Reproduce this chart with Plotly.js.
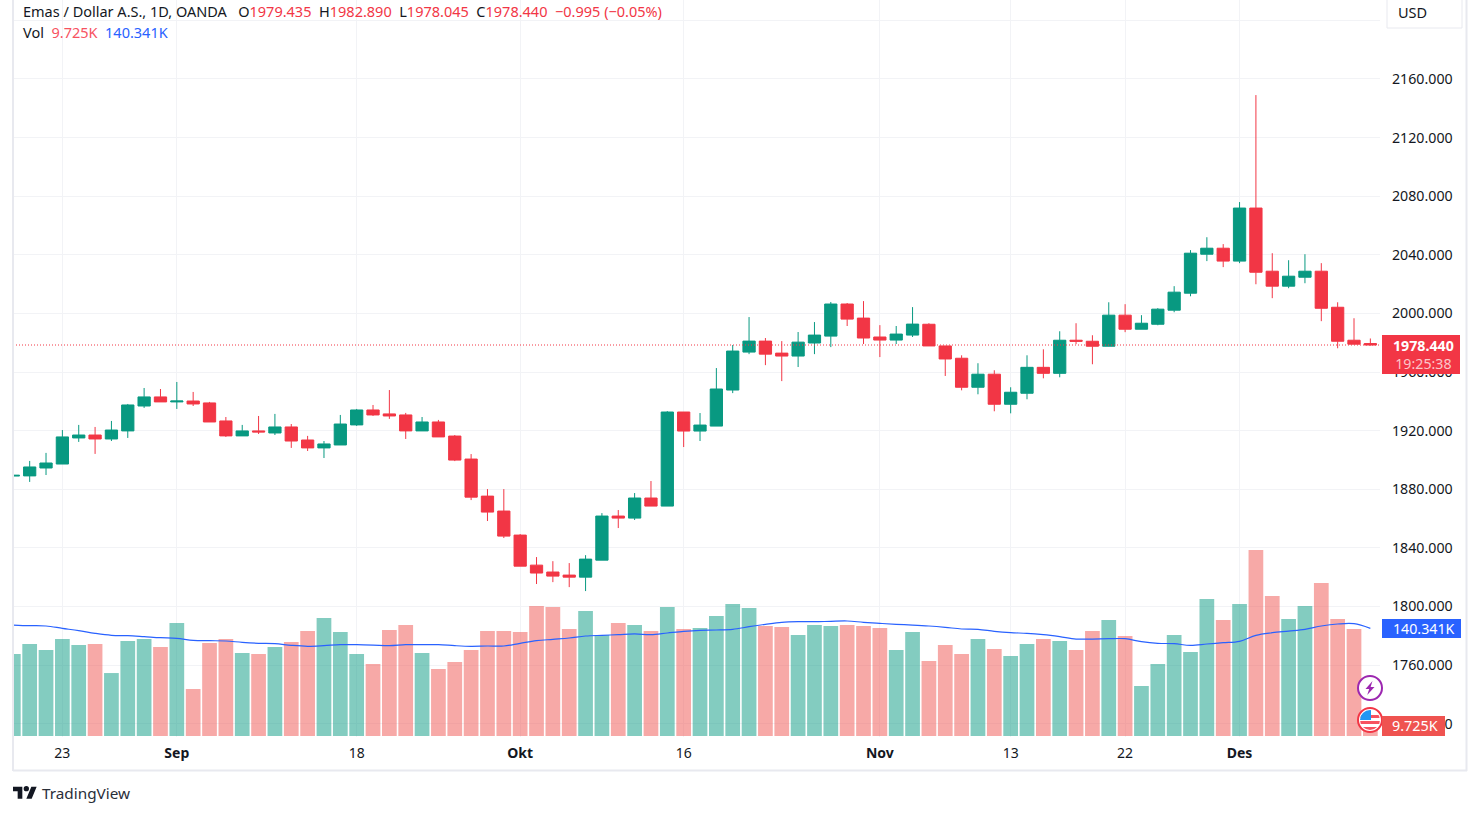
<!DOCTYPE html>
<html>
<head>
<meta charset="utf-8">
<script src="https://cdn.plot.ly/plotly-3.0.1.min.js"></script>
<style>
html, body { margin: 0; padding: 0; background: #fff; }
#chart { width: 1480px; height: 815px; }
</style>
</head>
<body>
<div id="chart"></div>
<script>
// daily bars, Aug 18 to Dec 13
const days = [
  "Aug 18","Aug 21","Aug 22","Aug 23","Aug 24","Aug 25","Aug 28","Aug 29","Aug 30","Aug 31",
  "Sep 1","Sep 4","Sep 5","Sep 6","Sep 7","Sep 8","Sep 11","Sep 12","Sep 13","Sep 14",
  "Sep 15","Sep 18","Sep 19","Sep 20","Sep 21","Sep 22","Sep 25","Sep 26","Sep 27","Sep 28",
  "Sep 29","Okt 2","Okt 3","Okt 4","Okt 5","Okt 6","Okt 9","Okt 10","Okt 11","Okt 12",
  "Okt 13","Okt 16","Okt 17","Okt 18","Okt 19","Okt 20","Okt 23","Okt 24","Okt 25","Okt 26",
  "Okt 27","Okt 30","Okt 31","Nov 1","Nov 2","Nov 3","Nov 6","Nov 7","Nov 8","Nov 9",
  "Nov 10","Nov 13","Nov 14","Nov 15","Nov 16","Nov 17","Nov 20","Nov 21","Nov 22","Nov 23",
  "Nov 24","Nov 27","Nov 28","Nov 29","Nov 30","Des 1","Des 4","Des 5","Des 6","Des 7",
  "Des 8","Des 11","Des 12","Des 13"
];
const opens = [
  1889.0,1889.1,1894.5,1897.2,1915,1917,1914.3,1919.8,1936.8,1943,
  1939.6,1940.2,1938.9,1926.6,1916.4,1919.8,1918.4,1922.5,1913.6,1908.2,
  1910.2,1923.9,1934.1,1931.4,1930.7,1919.8,1925.9,1916.3,1900.6,1875.3,
  1865.1,1848.7,1828.2,1823.5,1821.4,1820,1831.6,1861.7,1860.3,1874,
  1868.5,1932.7,1919.7,1923.1,1947.7,1973.6,1981.1,1972.9,1970.9,1979.8,
  1984.5,2006.4,1996.8,1983.9,1981.8,1985.2,1992.6,1977.8,1969.4,1949.6,
  1958.5,1938,1945.5,1963.2,1959.1,1981.7,1981,1977.6,1998.8,1989.2,
  1992.6,2002.2,2013.8,2040.4,2044.5,2035.7,2071.9,2028.8,2018.6,2024.7,
  2028.8,2004.2,1981.7,1979.435
];
const highs = [
  1897.2,1899.3,1904.8,1920.4,1923.9,1922.5,1926.6,1938.2,1949.1,1948.4,
  1953.2,1946.4,1939.6,1929.3,1923.9,1930,1931.4,1924.5,1916.4,1912.9,
  1930.7,1934.8,1937.5,1947.7,1932.1,1929.3,1927.3,1917,1904,1880.1,
  1880.1,1849.4,1833.7,1830.9,1829.6,1835,1863.7,1865.8,1877.4,1885.6,
  1933.3,1932.7,1932,1962.7,1978.4,1997.5,1983.2,1981.1,1987.3,1994.1,
  2007.8,2007.1,2008.4,1992,1991.4,2004.3,1993.3,1977.8,1971.4,1966,
  1961.2,1949.6,1971.4,1975.5,1987.8,1993.3,1985.1,2007.6,2006.3,1998.8,
  2003.6,2018.6,2043.2,2052,2047.3,2076,2149,2041.1,2036.3,2040.4,
  2034.3,2007.6,1996.7,1982.89
];
const lows = [
  1887,1885,1889.7,1897.2,1912.3,1904.1,1912.9,1915,1935.5,1939.6,
  1934.8,1936.8,1925.9,1915.7,1916.4,1917.7,1917,1908.2,1906.1,1901.3,
  1910.2,1923.2,1930,1928,1914.3,1919.8,1915.7,1899.2,1872.6,1858.3,
  1846.7,1827.5,1815.3,1816.6,1813.2,1810.5,1831.6,1853.5,1859,1868.5,
  1868.5,1908.8,1912.9,1923.1,1945.6,1972.2,1964.7,1953.8,1963.4,1972.2,
  1977,1991.4,1979.1,1970.2,1979.1,1983.9,1977.8,1957.3,1947.5,1944.8,
  1933.2,1931.8,1941.4,1955.7,1956.4,1979,1965.3,1977.6,1987.2,1989.2,
  1991.9,2000.8,2011.7,2035.7,2031.6,2034.3,2019.9,2010.4,2017.2,2020.6,
  1994.7,1976.2,1979,1978.045
];
const closes = [
  1889.5,1895.2,1897.9,1915.7,1917,1914.3,1920.4,1937.5,1943,1939.6,
  1940.2,1938.2,1925.9,1916.4,1919.8,1919.1,1922.5,1912.9,1908.2,1910.9,
  1924.5,1934.1,1930.7,1930,1919.8,1925.9,1915.7,1899.9,1874.6,1864.4,
  1848,1827.5,1822.8,1820.7,1820,1832.3,1861.7,1860.3,1874,1868.5,
  1932.7,1919.7,1923.8,1948.4,1974.3,1981.1,1972.2,1970.9,1980.4,1985.2,
  2006.4,1996.1,1983.2,1981.8,1985.9,1992.7,1977.8,1968.9,1949.6,1958.5,
  1938,1946.2,1963.2,1959.1,1981.7,1981,1977.6,1998.8,1989.2,1993.3,
  2002.9,2014.5,2041.1,2044.5,2035.7,2071.9,2028.1,2018.6,2025.4,2028.8,
  2003.5,1981,1979,1978.44
];
// volume in thousands
const vols = [
  103.7,116.3,108.7,122.6,115,116.3,79.6,120.1,122.6,112.5,
  142.9,59.4,117.6,122.6,104.9,103.7,112.5,118.8,132.7,149.2,
  131.5,103.7,91,134,140.3,104.9,84.7,93.6,108.7,132.7,
  132.7,131.5,164.3,163.1,135.3,158,127.7,142.9,140.3,132.7,
  163.1,135.3,136.5,151.7,166.9,161.8,139.1,137.8,127.7,140.3,
  139.1,140.3,139.1,136.5,108.7,131.5,94.8,115,103.7,122.6,
  110,101.1,116.3,122.6,120.1,108.7,132.7,146.6,126.4,63.2,
  91,127.7,106.2,173.2,146.6,166.9,235.1,177,147.9,164.3,
  193.4,147.9,135.3,9.725
];
const volMA = [
  140.3,139.5,139.1,136.1,133.2,129.8,127.3,126.8,125.6,124.3,
  123.5,120.9,120.5,120.1,118.4,117.2,116.7,114.6,113.4,114.2,
  115.5,115.5,115,114.2,115.5,115.5,115.5,114.2,113.4,113.8,
  113.8,117.2,120.5,122.2,123.9,126.4,127.3,128.1,129,128.1,
  130.2,132.3,133.6,134,134.9,138.2,141.2,143.7,144.5,144.5,
  145,145.4,143.7,142.4,141.2,140.3,139.1,137.4,135.3,134.9,
  132.3,130.6,129.8,128.1,125.6,122.6,122.6,123,123,119.3,
  117.2,116.7,114.6,116.3,118,119.7,127.3,130.6,132.7,134.9,
  139.1,141.6,142,136.1
];
const tickDays = ["Aug 23","Sep 1","Sep 18","Okt 2","Okt 16","Nov 1","Nov 13","Nov 22","Des 1"];
const tickLabels = ["23","<b>Sep</b>","18","<b>Okt</b>","16","<b>Nov</b>","13","22","<b>Des</b>"];
const priceTicks = [1720,1760,1800,1840,1880,1920,1960,2000,2040,2080,2120,2160,2200];

const UP = "#089981", DOWN = "#F23645", VOL_RED = "#EF5350", BLUE = "#2962FF";
const TXT = "#131722", GRID = "#f2f3f6", BORDER = "#e8e9ef";
const FONT = "'Noto Sans', sans-serif";

const L = 13, R = 1380, H = 737;
const px = x => (x - L) / (R - L);
const py = y => 1 - y / H;

function label(x, y, text, extra) {
  return Object.assign({
    xref: "paper", yref: "paper", x: px(x), y: py(y), text: text,
    showarrow: false, xanchor: "left", yanchor: "middle",
    font: { family: FONT, size: 14.5, color: TXT }
  }, extra || {});
}
function box(x0, x1, y0, y1, color) {
  return { type: "rect", xref: "paper", yref: "paper", x0: px(x0), x1: px(x1), y0: py(y0), y1: py(y1),
    fillcolor: color, line: { width: 0 }, layer: "above" };
}
function red(s) {
  return '<span style="color:#F23645">' + s + '</span>';
}
function svgUri(s) {
  return "data:image/svg+xml;base64," + btoa(s);
}

const volTrace = {
  type: "bar", x: days, y: vols, yaxis: "y",
  marker: { color: closes.map((c, i) => c >= opens[i] ? UP : VOL_RED), opacity: 0.5, line: { width: 0 } },
  hoverinfo: "skip"
};
const maTrace = {
  type: "scatter", mode: "lines", x: days, y: volMA, yaxis: "y",
  line: { color: BLUE, width: 1.2, shape: "spline" }, hoverinfo: "skip"
};
const candles = {
  type: "candlestick", x: days, open: opens, high: highs, low: lows, close: closes, yaxis: "y2",
  increasing: { line: { color: UP, width: 1 }, fillcolor: UP },
  decreasing: { line: { color: DOWN, width: 1 }, fillcolor: DOWN },
  whiskerwidth: 0, hoverinfo: "skip"
};

const boltIcon = '<svg xmlns="http://www.w3.org/2000/svg" width="28" height="28" viewBox="0 0 28 28">' +
  '<circle cx="14" cy="14" r="12" fill="#fff" stroke="#9C27B0" stroke-width="2"/>' +
  '<path d="M16.5 7 L9.5 15 H13.2 L11.2 21 L18.5 13 H14.6 Z" fill="#9C27B0"/></svg>';
const flagIcon = '<svg xmlns="http://www.w3.org/2000/svg" width="28" height="28" viewBox="0 0 28 28">' +
  '<defs><clipPath id="c"><circle cx="14" cy="14" r="10"/></clipPath></defs>' +
  '<circle cx="14" cy="14" r="12" fill="#fff" stroke="#F23645" stroke-width="2"/>' +
  '<g clip-path="url(#c)"><rect x="3" y="4" width="22" height="20" fill="#fff"/>' +
  '<rect x="3" y="9" width="22" height="3" fill="#F7525F"/><rect x="3" y="15" width="22" height="3" fill="#F7525F"/>' +
  '<rect x="3" y="21" width="22" height="3" fill="#F7525F"/><rect x="3" y="4" width="12" height="10" fill="#2196F3"/></g></svg>';
const tvLogo = '<svg xmlns="http://www.w3.org/2000/svg" width="36" height="28" viewBox="0 0 36 28">' +
  '<path d="M14 22H7V11H0V4h14v18zM28 22h-8l7.5-18h8L28 22z" fill="#131722"/><circle cx="20" cy="7" r="4" fill="#131722"/></svg>';

const layout = {
  width: 1480, height: 815,
  margin: { l: L, r: 1480 - R, t: 0, b: 815 - H, pad: 0 },
  paper_bgcolor: "#fff", plot_bgcolor: "#fff",
  showlegend: false, bargap: 0.1, boxgap: 0.25, boxgroupgap: 0, dragmode: false,
  font: { family: FONT, size: 14, color: TXT },
  xaxis: {
    type: "category", categoryorder: "array", categoryarray: days,
    range: [-0.02, 83.59], rangeslider: { visible: false },
    tickmode: "array", tickvals: tickDays, ticktext: tickLabels,
    showgrid: true, gridcolor: GRID, gridwidth: 1, ticks: "", showline: false, zeroline: false,
    ticklabelstandoff: 6, tickfont: { family: FONT, size: 14, color: TXT }
  },
  yaxis: { range: [-1.26, 930.5], visible: false, fixedrange: true },
  yaxis2: {
    overlaying: "y", side: "right", anchor: "x",
    range: [1710.9, 2213.9], tickmode: "array", tickvals: priceTicks, tickformat: ".3f",
    showgrid: true, gridcolor: GRID, gridwidth: 1, ticks: "", showline: false, zeroline: false,
    ticklabelstandoff: 11, tickfont: { family: FONT, size: 14.2, color: TXT }
  },
  shapes: [
    // last price line
    { type: "line", xref: "paper", x0: 0, x1: 1, yref: "y2", y0: 1978.44, y1: 1978.44,
      line: { color: DOWN, width: 1, dash: "1px,2px" }, layer: "above" },
    // outer frame
    { type: "line", xref: "paper", yref: "paper", x0: px(13), x1: px(13), y0: py(0), y1: py(771),
      line: { color: BORDER, width: 2 }, layer: "above" },
    { type: "line", xref: "paper", yref: "paper", x0: px(13), x1: px(1467), y0: py(770.5), y1: py(770.5),
      line: { color: BORDER, width: 2 }, layer: "above" },
    { type: "line", xref: "paper", yref: "paper", x0: px(1466.5), x1: px(1466.5), y0: py(0), y1: py(771),
      line: { color: BORDER, width: 2 }, layer: "above" },
    // currency button
    { type: "rect", xref: "paper", yref: "paper", x0: px(1387), x1: px(1462), y0: py(-3), y1: py(28),
      fillcolor: "#fff", line: { color: BORDER, width: 1 }, layer: "above" },
    // axis value tags
    box(1382, 1460, 335, 374, DOWN),
    box(1382, 1461, 619, 638, BLUE),
    box(1382, 1445, 716, 736, VOL_RED)
  ],
  images: [
    { source: svgUri(boltIcon), xref: "paper", yref: "paper", x: px(1356), y: py(674), sizex: 28 / (R - L), sizey: 28 / H,
      sizing: "stretch", xanchor: "left", yanchor: "top", layer: "above" },
    { source: svgUri(flagIcon), xref: "paper", yref: "paper", x: px(1356), y: py(706), sizex: 28 / (R - L), sizey: 28 / H,
      sizing: "stretch", xanchor: "left", yanchor: "top", layer: "above" },
    { source: svgUri(tvLogo), xref: "paper", yref: "paper", x: px(13), y: py(784), sizex: 24 / (R - L), sizey: 18.7 / H,
      sizing: "stretch", xanchor: "left", yanchor: "top", layer: "above" }
  ],
  annotations: [
    label(21, 11, 'Emas / Dollar A.S., 1D, OANDA\u00a0\u00a0\u00a0O' + red("1979.435") + '\u00a0\u00a0H' + red("1982.890") +
      '\u00a0\u00a0L' + red("1978.045") + '\u00a0\u00a0C' + red("1978.440") + '\u00a0\u00a0' + red("−0.995 (−0.05%)")),
    label(21, 32, 'Vol\u00a0\u00a0<span style="color:#F7525F">9.725K</span>\u00a0\u00a0<span style="color:#2962FF">140.341K</span>'),
    label(1396, 12, "USD"),
    label(1391, 354.5, '<b>1978.440</b><br><span style="color:rgba(255,255,255,0.72)">19:25:38</span>', {
      align: "center", font: { family: FONT, size: 14.2, color: "#fff" }
    }),
    label(1391, 628.5, "140.341K", { font: { family: FONT, size: 14.2, color: "#fff" } }),
    label(1390, 725.5, "9.725K", { font: { family: FONT, size: 14.4, color: "#fff" } }),
    label(40, 793, "TradingView", { font: { family: FONT, size: 15.3, color: "#2a2e39" } })
  ]
};

Plotly.newPlot("chart", [volTrace, maTrace, candles], layout, { displayModeBar: false, staticPlot: true });
</script>
</body>
</html>
